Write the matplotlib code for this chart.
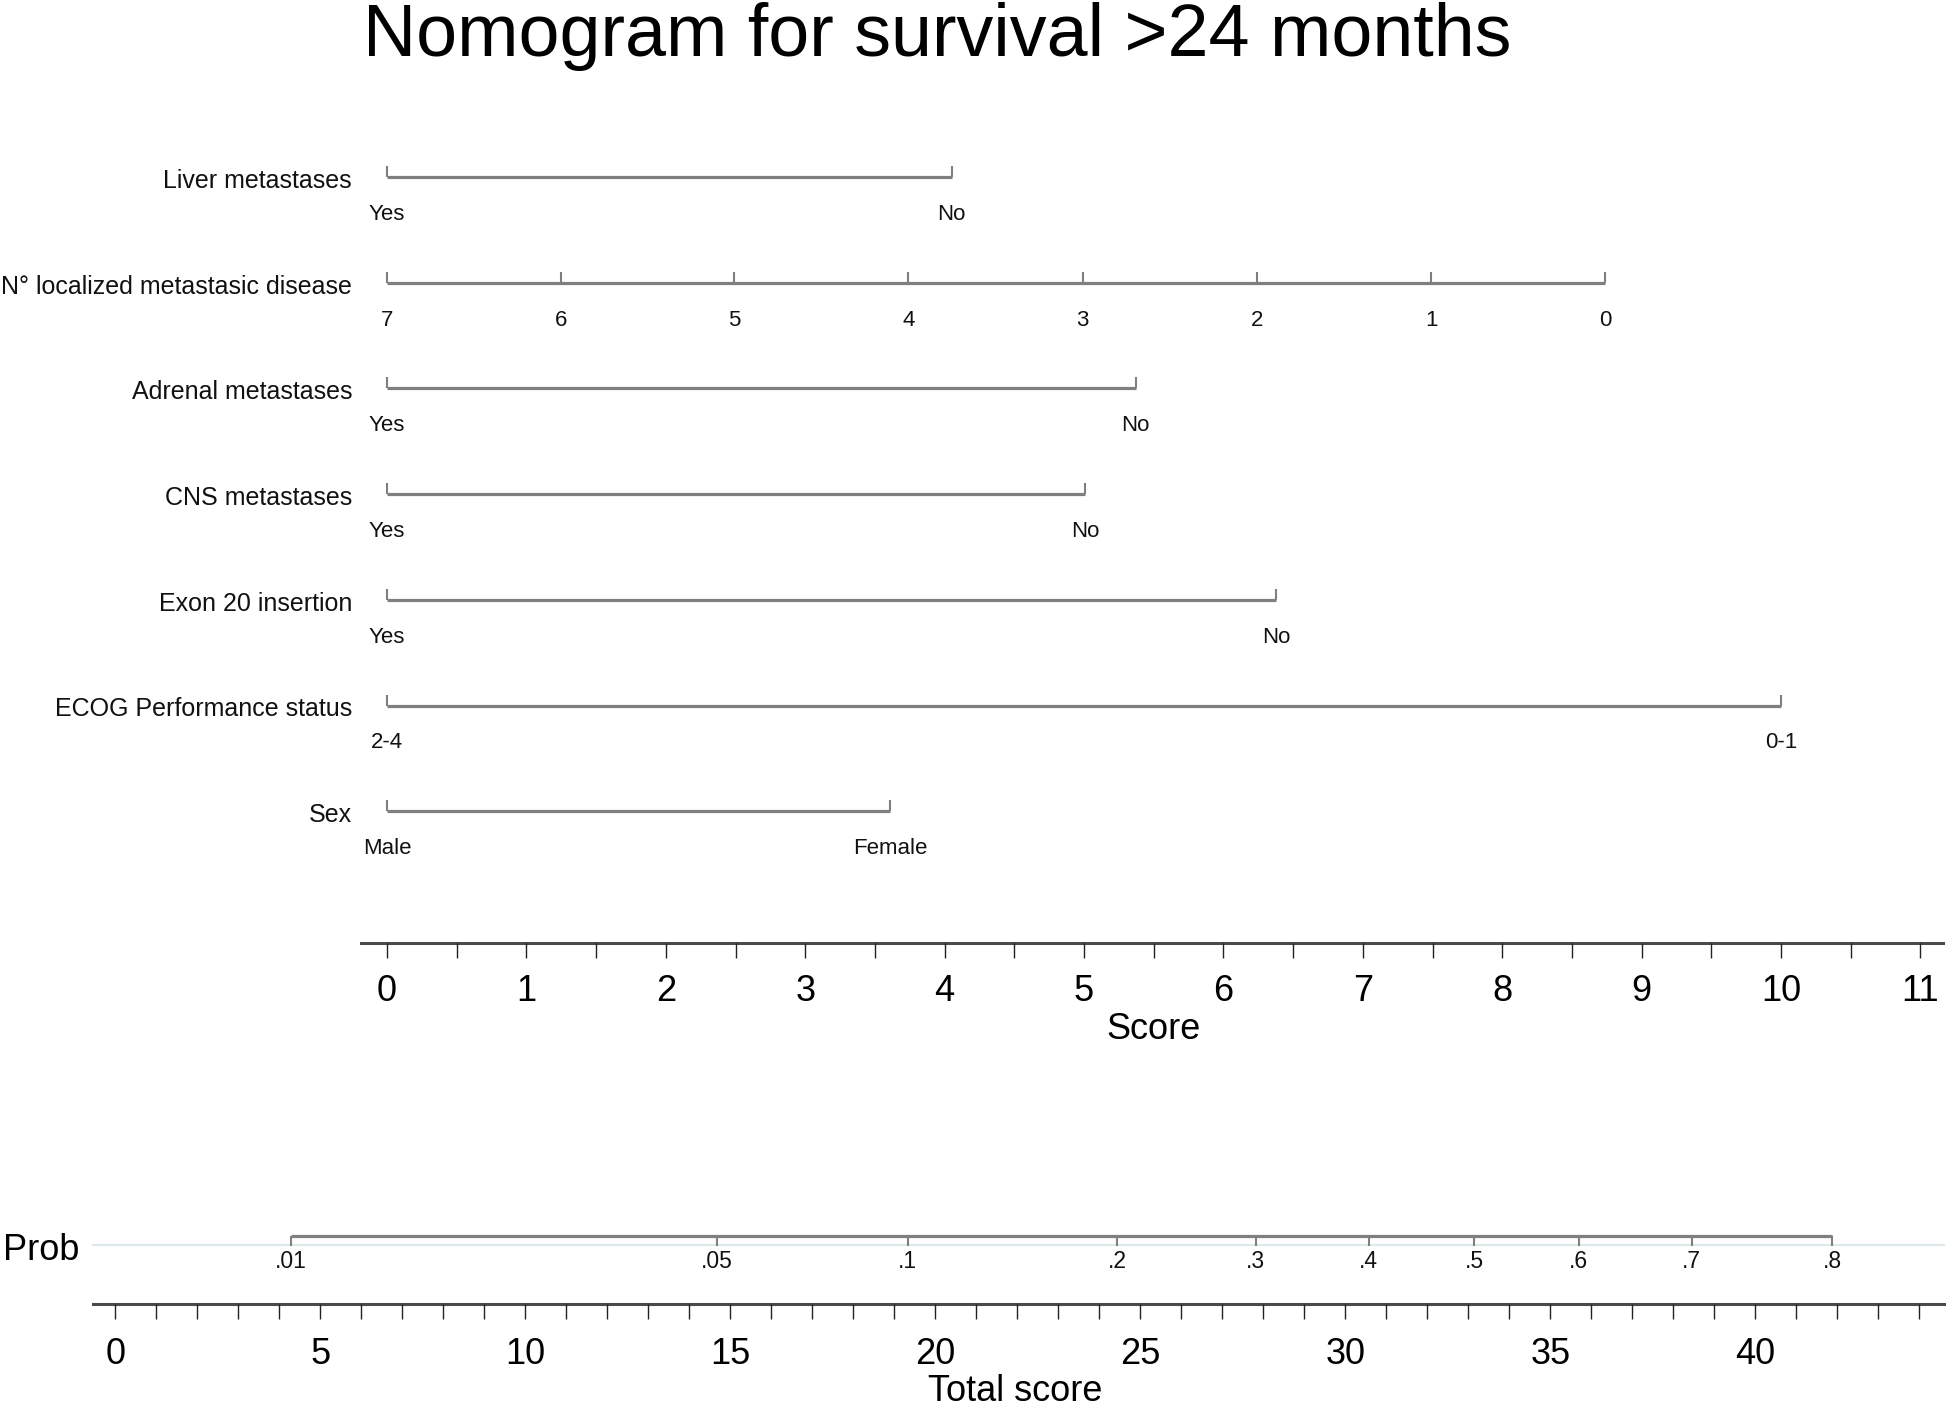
import matplotlib
matplotlib.use("Agg")
import matplotlib.pyplot as plt

plt.rcParams['font.family'] = ['Liberation Sans', 'DejaVu Sans']

# --- data ---
title = "Nomogram for survival >24 months"

var_names = ["Liver metastases", "N\u00b0 localized metastasic disease", "Adrenal metastases",
             "CNS metastases", "Exon 20 insertion", "ECOG Performance status", "Sex"]
var_levels = [["Yes", "No"],
              ["7", "6", "5", "4", "3", "2", "1", "0"],
              ["Yes", "No"],
              ["Yes", "No"],
              ["Yes", "No"],
              ["2-4", "0-1"],
              ["Male", "Female"]]
var_points = [[0, 4.05],
              [0, 1.25, 2.49, 3.74, 4.99, 6.24, 7.49, 8.74],
              [0, 5.37],
              [0, 5.01],
              [0, 6.38],
              [0, 10.0],
              [0, 3.61]]

score_ticks = [0, 0.5, 1, 1.5, 2, 2.5, 3, 3.5, 4, 4.5, 5, 5.5, 6, 6.5, 7, 7.5, 8, 8.5, 9, 9.5, 10, 10.5, 11]
score_labels = [0, 1, 2, 3, 4, 5, 6, 7, 8, 9, 10, 11]

total_ticks = list(range(0, 45))
total_labels = [0, 5, 10, 15, 20, 25, 30, 35, 40]

prob_labels = [".01", ".05", ".1", ".2", ".3", ".4", ".5", ".6", ".7", ".8"]
prob_total = [4.28, 14.67, 19.33, 24.43, 27.81, 30.57, 33.14, 35.69, 38.45, 41.88]

# --- layout (pixels of the 1946x1406 canvas) ---
W, H = 1946, 1406
SCORE_X0, SCORE_PX = 387.0, 139.4    # pixel of score 0, pixels per score unit
TOTAL_X0, TOTAL_PX = 115.4, 41.0     # pixel of total 0, pixels per total unit
ROW_Y0, ROW_DY = 177.0, 105.7

GRAY = '#7f7f7f'
DARK = '#4a4a4a'
TXT = '#111111'

fig = plt.figure(figsize=(W / 100, H / 100), dpi=100)
fig.patch.set_facecolor('white')

ax = fig.add_axes([0, 0, 1, 1])
ax.set_xlim(-SCORE_X0 / SCORE_PX, (W - SCORE_X0) / SCORE_PX)
ax.set_ylim(H, 0)
ax.axis('off')

axb = fig.add_axes([0, 0, 1, 1])
axb.set_xlim(-TOTAL_X0 / TOTAL_PX, (W - TOTAL_X0) / TOTAL_PX)
axb.set_ylim(H, 0)
axb.axis('off')
axb.patch.set_visible(False)

fig.text(937.6 / W, 1 - 56 / H, title, ha='center', va='baseline', fontsize=53, color='black')

# variable scales
name_x = (352 - SCORE_X0) / SCORE_PX
for i, (name, levels, pts) in enumerate(zip(var_names, var_levels, var_points)):
    y = ROW_Y0 + i * ROW_DY
    ax.plot([min(pts), max(pts)], [y, y], color=GRAY, lw=2.3, solid_capstyle='butt')
    ax.vlines(pts, y - 11, y, color=GRAY, lw=1.5)
    for lev, p in zip(levels, pts):
        ax.text(p, y + 43, lev, ha='center', va='baseline', fontsize=16, color=TXT)
    ax.text(name_x, y + 11, name, ha='right', va='baseline', fontsize=18, color=TXT)

# score axis
sy = 943
ax.plot([(361 - SCORE_X0) / SCORE_PX, (1943 - SCORE_X0) / SCORE_PX], [sy, sy], color=DARK, lw=2.2)
ax.vlines(score_ticks, sy, sy + 15, color='#222222', lw=1.0)
for v in score_labels:
    ax.text(v, 1001, str(v), ha='center', va='baseline', fontsize=26, color='black')
ax.text(5.5, 1039, "Score", ha='center', va='baseline', fontsize=26, color='black')

# probability scale
py = 1236
axb.plot([(92.5 - TOTAL_X0) / TOTAL_PX, (1944 - TOTAL_X0) / TOTAL_PX], [1245, 1245],
         color='#dde9ea', lw=1.6)
axb.plot([min(prob_total), max(prob_total)], [py, py], color=GRAY, lw=2.3, solid_capstyle='butt')
axb.vlines(prob_total, py, py + 10, color=GRAY, lw=1.5)
for lab, t in zip(prob_labels, prob_total):
    axb.text(t, 1268, lab, ha='center', va='baseline', fontsize=16.5, color=TXT)
fig.text(3 / W, 1 - 1260 / H, "Prob", ha='left', va='baseline', fontsize=26, color='black')

# total score axis
ty = 1304
axb.plot([(92.5 - TOTAL_X0) / TOTAL_PX, (1944 - TOTAL_X0) / TOTAL_PX], [ty, ty], color=DARK, lw=2.2)
axb.vlines(total_ticks, ty, ty + 15, color='#222222', lw=1.0)
for v in total_labels:
    axb.text(v, 1364, str(v), ha='center', va='baseline', fontsize=26, color='black')
fig.text(1015 / W, 1 - 1401 / H, "Total score", ha='center', va='baseline', fontsize=26, color='black')

fig.savefig("out.png", dpi=100)
